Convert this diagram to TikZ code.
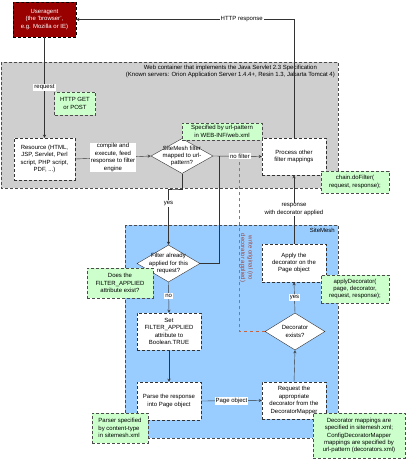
\documentclass[tikz,border=0pt]{standalone}
\usepackage{fontspec}
\setmainfont{Liberation Sans}
\usepackage{tikz}
\usetikzlibrary{shapes.geometric}
\usetikzlibrary{positioning}
\usepackage{xcolor}
\definecolor{uared}{HTML}{990000}
\definecolor{contgray}{HTML}{CFCFCF}
\definecolor{smblue}{HTML}{99CCFF}
\definecolor{notegreen}{HTML}{CCFFCC}
\definecolor{wobrown}{HTML}{C8643C}
\definecolor{wotext}{HTML}{9A4A44}

\begin{document}
\begin{tikzpicture}[x=1pt,y=-1pt,>=stealth,
  every node/.style={font=\fontsize{6}{7.4}\selectfont, align=center},
  procbox/.style={draw=black!80, densely dashed, fill=white, inner sep=1pt, minimum width=64pt, minimum height=37pt},
  decide/.style={diamond, draw=black!80, fill=white, inner sep=0pt, minimum width=62pt, minimum height=35pt},
  notebox/.style={draw=black!70, densely dashed, fill=notegreen, inner sep=1pt},
  lbl/.style={fill=white, inner sep=1pt},
  flow/.style={draw=black!80, ->}]
\useasboundingbox (0,0) rectangle (406,459);
\fill[white] (0,0) rectangle (406,459);
% containers
\draw[black!70, densely dashed, fill=contgray] (1,62) rectangle (338,188);
\node[anchor=north east, inner sep=1pt] (wc) at (336,64) {Web container that implements the Java Servlet 2.3 Specification\\(Known servers: Orion Application Server 1.4.4+, Resin 1.3, Jakarta Tomcat 4)};
\draw[black!70, densely dashed, fill=smblue] (125,225) rectangle (338,438);
\node[anchor=north east, inner sep=1pt] (sm) at (336,227) {SiteMesh};
% nodes
\node[draw=black, densely dashed, fill=uared, text=white, minimum width=63pt, minimum height=35pt, inner sep=1pt] (ua) at (44.5,19.5) {Useragent\\(the 'browser',\\e.g. Mozilla or IE)};
\node[procbox, minimum width=61pt, minimum height=42pt] (res) at (44.5,159) {Resource (HTML,\\JSP, Servlet, Perl\\script, PHP script,\\PDF, ...)};
\node[decide] (d1) at (182,156) {};
\node at (d1) {SiteMesh filter\\mapped to url-\\pattern?};
\node[procbox] (proc) at (294,156.5) {Process other\\filter mappings};
\node[decide, minimum width=63pt, minimum height=37pt] (d2) at (168.5,263.5) {};
\node at (d2) {Filter already\\applied for this\\request?};
\node[procbox] (set) at (169,331.5) {Set\\FILTER\_APPLIED\\attribute to\\Boolean.TRUE};
\node[procbox, minimum height=38pt] (parse) at (169,401) {Parse the response\\into Page object};
\node[procbox] (req) at (294,400.5) {Request the\\appropriate\\decorator from the\\DecoratorMapper};
\node[decide, minimum width=60pt, minimum height=37pt] (d3) at (295,331.5) {};
\node at (d3) {Decorator\\exists?};
\node[procbox, minimum height=38pt] (apply) at (294,263) {Apply the\\decorator on the\\Page object};
\coordinate (j1) at (219,156);
\coordinate (wo) at (239,162);
% connectors
\draw[flow] (ua.south) -- (res.north) node[lbl, midway] {request};
\draw[flow] (proc.north) |- (ua.east) node[lbl, pos=0.62] {HTTP response};
\draw[flow] (res.east) -- (d1.west) node[lbl, midway] {compile and\\execute, feed\\response to filter\\engine};
\draw[flow] (d1.east) -- (proc.west) node[lbl, pos=0.55] {no filter};
\draw[flow] (d1.south) |- (175,189) -| (d2.north) node[lbl, pos=0.63] {yes};
\draw[draw=black!80] (d2.east) -| (j1);
\draw[flow] (d2.south) -- (set.north) node[lbl, pos=0.45] {no};
\draw[flow] (set.south) -- (parse.north);
\draw[flow] (parse.east) -- (req.west) node[lbl, midway] {Page object};
\draw[flow] (req.north) -- (d3.south);
\draw[flow] (d3.north) -- (apply.south) node[lbl, midway] {yes};
\draw[flow] (apply.north) -- (proc.south) node[lbl, midway] {response\\with decorator applied};
\draw[wobrown, dashed, thick] (d3.west) -| (wo);
\node[rotate=-90, text=wotext] (wot) at (246.5,258) {write original (no\\decorator applied)};
% notes
\node[notebox, minimum width=41pt, minimum height=23pt] (n1) at (75,103.5) {HTTP GET\\or POST};
\node[notebox, minimum width=80pt, minimum height=17pt] (n2) at (222,131.5) {Specified by url-pattern\\in WEB-INF/web.xml};
\node[notebox, minimum width=68pt, minimum height=22pt] (n3) at (355,182) {chain.doFilter(\\request, response);};
\node[notebox, minimum width=66pt, minimum height=30pt] (n4) at (120,283) {Does the\\FILTER\_APPLIED\\attribute exist?};
\node[notebox, minimum width=68pt, minimum height=28pt] (n5) at (355,289) {applyDecorator(\\page, decorator,\\request, response);};
\node[notebox, minimum width=56pt, minimum height=30pt, align=left] (n6) at (120,428) {Parser specified\\by content-type\\in sitemesh.xml};
\node[notebox, minimum width=92pt, minimum height=45pt] (n7) at (359,435.5) {Decorator mappings are\\specified in sitemesh.xml;\\ConfigDecoratorMapper\\mappings are specified by\\url-pattern (decorators.xml)};
\end{tikzpicture}
\end{document}
